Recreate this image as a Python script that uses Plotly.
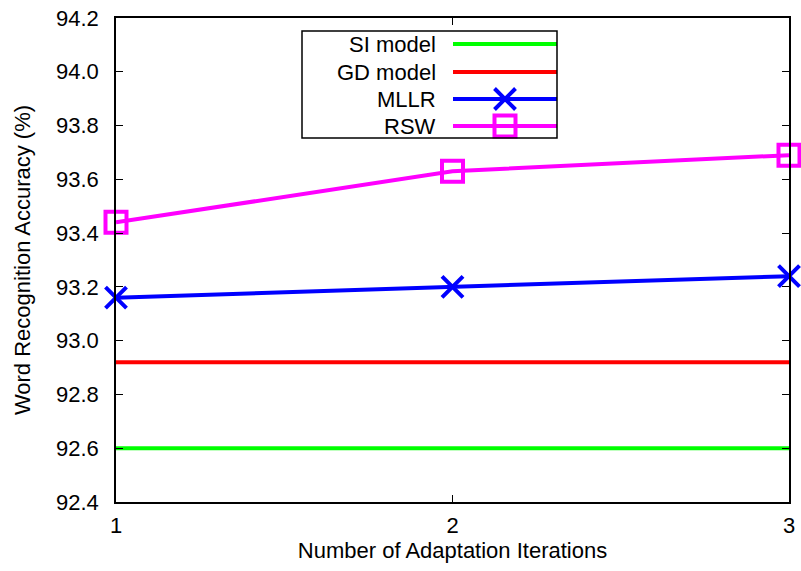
import plotly.graph_objects as go

iterations = [1, 2, 3]
si_model = [92.6, 92.6, 92.6]
gd_model = [92.92, 92.92, 92.92]
mllr = [93.16, 93.2, 93.24]
rsw = [93.44, 93.63, 93.69]
y_ticks = [92.4, 92.6, 92.8, 93.0, 93.2, 93.4, 93.6, 93.8, 94.0, 94.2]
series_names = ["SI model", "GD model", "MLLR", "RSW"]
colors = ["#00ff00", "#ff0000", "#0000ff", "#ff00ff"]

FONT = "Liberation Sans, Arial, Helvetica, sans-serif"
FS = 22
L, R, T, B = 116, 789, 18, 502
W, H = 801, 571
LW = 4
MS = 21
MLW = 4

fig = go.Figure()
series = [si_model, gd_model, mllr, rsw]
symbols = [None, None, "x-thin-open", "square-open"]
for name, ys, col, sym in zip(series_names, series, colors, symbols):
    kw = dict(mode="lines")
    if sym:
        kw = dict(mode="lines+markers",
                  marker=dict(symbol=sym, size=MS, color=col,
                              line=dict(color=col, width=MLW)))
    fig.add_trace(go.Scatter(x=iterations, y=ys, name=name,
                             line=dict(color=col, width=LW),
                             cliponaxis=False, showlegend=False, **kw))

# manual legend in pixel coordinates (overlay axes)
box = dict(x0=302, x1=557, y0=31, y1=138)
rows_y = [44, 72, 99, 126]
for name, col, sym, yy in zip(series_names, colors, symbols, rows_y):
    fig.add_trace(go.Scatter(x=[453, 557], y=[yy, yy], xaxis="x2", yaxis="y2",
                             mode="lines", line=dict(color=col, width=LW),
                             showlegend=False, hoverinfo="skip", cliponaxis=False))
    if sym:
        fig.add_trace(go.Scatter(x=[505], y=[yy], xaxis="x2", yaxis="y2",
                                 mode="markers",
                                 marker=dict(symbol=sym, size=MS, color=col,
                                             line=dict(color=col, width=MLW)),
                                 showlegend=False, hoverinfo="skip", cliponaxis=False))
    fig.add_annotation(x=438, y=yy, xref="x2", yref="y2", text=name,
                       showarrow=False, xanchor="right", yanchor="middle",
                       font=dict(family=FONT, size=FS, color="black"))

fig.add_shape(type="rect", xref="x2", yref="y2", layer="above",
              line=dict(color="black", width=1.5), **box)

axis_common = dict(showgrid=False, zeroline=False, showline=True,
                   linecolor="black", linewidth=1.5, mirror="allticks",
                   ticks="inside", ticklen=7, tickwidth=1, tickcolor="black",
                   tickfont=dict(family=FONT, size=FS, color="black"))

fig.update_layout(
    width=W, height=H,
    margin=dict(l=L, r=W - R, t=T, b=H - B, autoexpand=False),
    paper_bgcolor="white", plot_bgcolor="white",
    xaxis=dict(range=[1, 3], tickvals=iterations, ticktext=[str(i) for i in iterations],
               ticklabelstandoff=3,
               title=dict(text="Number of Adaptation Iterations",
                          font=dict(family=FONT, size=FS, color="black"), standoff=4),
               **axis_common),
    yaxis=dict(range=[92.4, 94.2], tickvals=y_ticks,
               ticktext=[f"{v:.1f}" for v in y_ticks],
               ticklabelstandoff=11,
               title=dict(text="Word Recognition Accuracy (%)",
                          font=dict(family=FONT, size=FS, color="black"), standoff=19),
               **axis_common),
    xaxis2=dict(range=[L, R], overlaying="x", visible=False, fixedrange=True),
    yaxis2=dict(range=[B, T], overlaying="y", visible=False, fixedrange=True),
)

fig.write_html("out.html", config={"displayModeBar": False},
               post_script="document.body.style.margin='0';document.body.style.padding='0';")
